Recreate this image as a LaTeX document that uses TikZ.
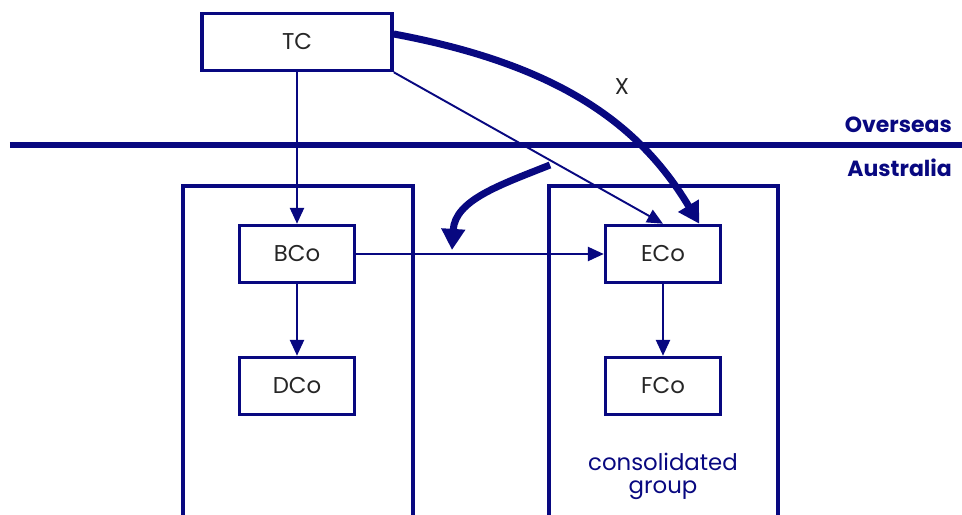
\documentclass[tikz,border=0pt]{standalone}
\usepackage{fontspec}
\setmainfont{Poppins}
\usetikzlibrary{arrows.meta}
\definecolor{navy}{RGB}{8,8,128}
\tikzset{
    RA/.style ={rectangle,minimum width = 2.3cm, minimum height = 1.14cm, draw=navy, line width=2pt, font=\fontsize{13}{15}\selectfont, text=black!85},
    AR/.style ={navy, line width=1.1pt, -{Triangle[width=8pt,length=9pt]}},
    TA/.style ={navy, line width=4pt, -{Triangle[width=13pt,length=12pt]}},
    GB/.style ={navy, line width=2pt},
    LB/.style ={navy, font=\fontsize{12.5}{15}\selectfont\bfseries, anchor=east}}

\begin{document}
\begin{tikzpicture}
        \useasboundingbox (0,0) rectangle (19.24,10.3);
        % group boxes, open at the bottom
        \draw[GB] (3.66,0) |- (8.26,6.58) -- (8.26,0);
        \draw[GB] (10.98,0) |- (15.56,6.58) -- (15.56,0);
        % border line
        \draw[navy, line width=3.4pt] (0.2,7.4) coordinate (L1) -- (19.24,7.4) coordinate (L2);
        \node[LB] (os) at(19.16,7.8){Overseas};
        \node[LB] (au) at(19.16,6.94){Australia};
        \node[RA] (TC)[minimum width=3.8cm] at(5.94,9.46){TC};
        \node[RA] (BCo) at(5.94,5.22){BCo};
        \node[RA] (DCo) at(5.94,2.58){DCo};
        \node[RA] (ECo) at(13.26,5.22){ECo};
        \node[RA] (FCo) at(13.26,2.58){FCo};
        \node[navy, align=center, font=\fontsize{13}{15}\selectfont] (cg) at(13.26,0.78){consolidated\\[-2pt]group};
        \draw[AR] (TC) -- (BCo);
        \draw[AR] (BCo) -- (DCo);
        \draw[AR] (ECo) -- (FCo);
        \draw[AR] (BCo) -- (ECo);
        \draw[AR] (TC.south east) -- (ECo.north);
        \draw[TA] ([yshift=0.16cm]TC.east) .. controls (11.2,9.0) and (12.8,7.8) .. ([xshift=-0.46cm]ECo.north east);
        \node[text=black!85, font=\fontsize{13}{15}\selectfont] (x) at(12.44,8.56){X};
        \coordinate (s) at (11.0,7.0);
        \draw[TA] (s) .. controls (10.0,6.6) and (9.1,6.3) .. (9.04,5.3);
    \end{tikzpicture}
\end{document}
